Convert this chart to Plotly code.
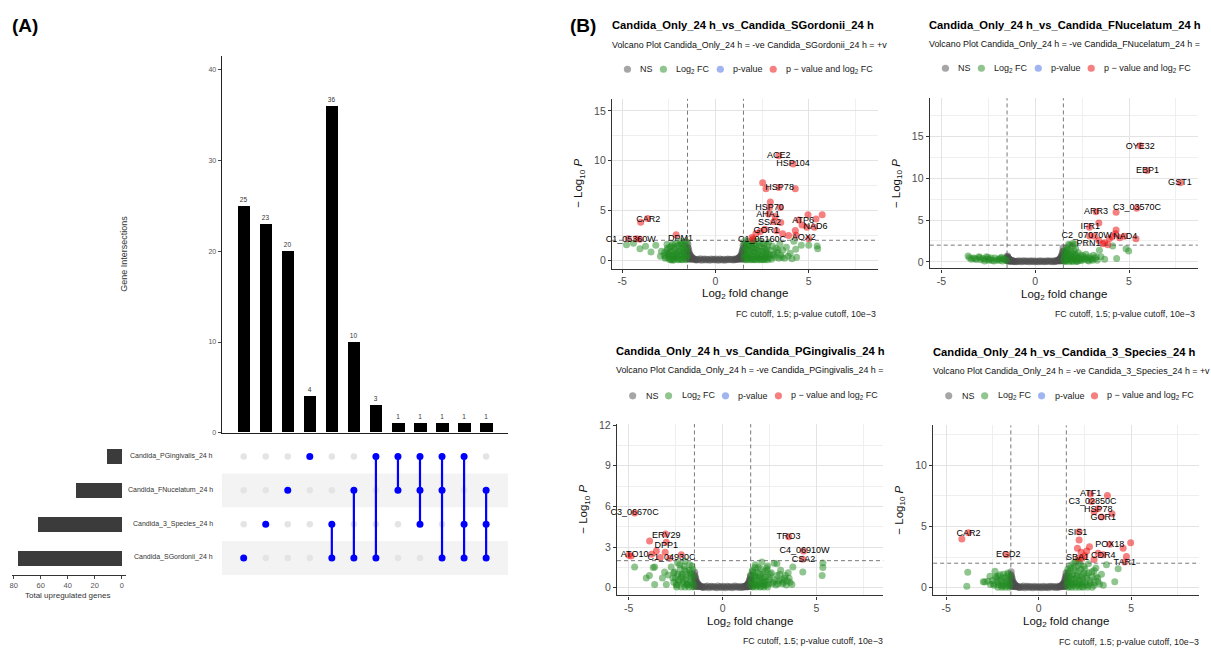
import plotly.graph_objects as go

W, H = 1211, 653
FONT = "Liberation Sans, Arial, Helvetica, sans-serif"


def fx(px):
    return px / W


def fy(py):
    return 1 - py / H


# ---------------- Panel A : UpSet data ----------------
inter_cols = [1, 2, 3, 4, 5, 6, 7, 8, 9, 10, 11, 12]
inter_counts = [25, 23, 20, 4, 36, 10, 3, 1, 1, 1, 1, 1]
set_names = ["Candida_PGingivalis_24 h", "Candida_FNucelatum_24 h",
             "Candida_3_Species_24 h", "Candida_SGordonii_24 h"]
set_rows = [4, 3, 2, 1]
set_sizes = [11, 34, 62, 77]
# membership of each intersection column (row ids: 4=PG, 3=FN, 2=3Sp, 1=SG)
inter_members = [[1], [2], [3], [4], [2, 1], [3, 1], [4, 1], [4, 3],
                 [4, 3, 2], [4, 3, 1], [4, 2, 1], [3, 2, 1]]

# ---------------- Panel B : volcano data ----------------
ns_flat_x = [-1.02, -0.95, -0.88, -0.81, -0.74, -0.67, -0.6, -0.53, -0.46, -0.39,
             -0.32, -0.25, -0.18, -0.11, -0.04, 0.03, 0.1, 0.17, 0.24, 0.31,
             0.38, 0.45, 0.52, 0.59, 0.66, 0.73, 0.8, 0.87, 0.94, 1.01]
ns_flat_y = [0.02, 0.1, 0.05, 0.14, 0.0, 0.08, 0.12, 0.03, 0.1, 0.06,
             0.0, 0.13, 0.04, 0.09, 0.02, 0.11, 0.05, 0.0, 0.12, 0.07,
             0.03, 0.1, 0.0, 0.08, 0.13, 0.04, 0.1, 0.06, 0.02, 0.12]
ns_edge_xl = [-1.49, -1.49, -1.49, -1.49, -1.48, -1.46, -1.46, -1.46, -1.43, -1.43,
              -1.43, -1.4, -1.4, -1.37, -1.37, -1.34, -1.34, -1.3, -1.3, -1.26,
              -1.26, -1.22, -1.18, -1.14, -1.1, -1.06]
ns_edge_xr = [1.49, 1.49, 1.49, 1.49, 1.48, 1.46, 1.46, 1.46, 1.43, 1.43,
              1.43, 1.4, 1.4, 1.37, 1.37, 1.34, 1.34, 1.3, 1.3, 1.26,
              1.26, 1.22, 1.18, 1.14, 1.1, 1.06]

# Plot 1 : SGordonii
p1_ns_yl = [0.1, 0.5, 0.9, 1.3, 1.6, 0.3, 0.8, 1.2, 0.15, 0.55, 0.95, 0.3, 0.7, 0.2, 0.55,
            0.1, 0.45, 0.15, 0.35, 0.1, 0.28, 0.2, 0.15, 0.12, 0.08, 0.05]
p1_ns_yr = [0.1, 0.5, 0.9, 1.2, 1.5, 0.3, 0.75, 1.1, 0.15, 0.5, 0.9, 0.3, 0.65, 0.2, 0.5,
            0.1, 0.4, 0.15, 0.32, 0.1, 0.25, 0.2, 0.15, 0.12, 0.08, 0.05]
p1_fc_x = [-4.77, -4.05, -3.46, -3.75, -4.4, -3.2, -2.75, -2.7, -2.6, -2.55, -2.5, -2.45,
           -2.4, -2.35, -2.3, -2.25, -2.2, -2.15, -2.1, -2.05, -2.0, -1.95, -1.9, -1.85,
           -1.8, -1.78, -1.75, -1.7, -1.68, -1.65, -1.62, -1.6, -1.58, -1.55, -1.52, -1.52,
           -2.6, -2.9, -2.95, -1.9, -2.3,
           1.52, 1.55, 1.55, 1.6, 1.62, 1.65, 1.7, 1.72, 1.75, 1.8, 1.85, 1.88, 1.9, 1.95,
           2.0, 2.02, 2.1, 2.1, 2.15, 2.2, 2.25, 2.3, 2.35, 2.4, 2.45, 2.5, 2.55, 2.6, 2.65,
           2.7, 2.75, 2.8, 2.85, 2.9, 2.95, 3.0, 3.05, 3.1, 3.2, 3.25, 3.3, 3.4, 3.45, 3.5,
           3.6, 3.7, 3.8, 3.9, 4.0, 4.1, 4.2, 4.3, 4.35, 5.0, 5.45, 5.48, 4.6, 1.58, 2.05, 1.7]
p1_fc_y = [1.56, 1.16, 0.83, 1.4, 1.7, 1.5, 0.5, 0.2, 1.0, 0.6, 0.3, 1.3,
           0.8, 0.1, 1.6, 0.5, 1.1, 0.3, 0.7, 1.4, 0.2, 0.9, 0.5, 1.2,
           0.1, 1.7, 0.7, 0.3, 1.0, 1.5, 0.5, 0.15, 1.2, 0.8, 0.4, 1.8,
           1.6, 0.9, 0.4, 1.9, 0.0,
           0.2, 0.9, 1.6, 0.5, 1.2, 0.1, 1.9, 0.7, 0.3, 1.4, 1.0, 0.2, 0.6, 1.7,
           0.4, 1.2, 0.1, 0.8, 1.5, 0.3, 1.0, 1.9, 0.6, 0.1, 1.3, 0.4, 0.9, 1.6, 0.2,
           0.7, 1.1, 0.3, 1.8, 0.5, 1.0, 0.1, 1.4, 0.6, 0.3, 1.2, 0.8, 0.2, 1.6, 0.5,
           1.0, 0.2, 1.3, 0.4, 0.7, 0.15, 1.9, 1.1, 0.3, 1.5, 1.42, 1.16, 1.5, 1.95, 1.95, 1.45]
p1_fc2_x = [1.53, 1.57, 1.63, 1.68, 1.73, 1.77, 1.83, 1.87, 1.93, 1.97, 2.03, 2.07, 2.13, 2.18,
            2.23, 2.28, 2.33, 2.38, 2.43, 2.48, 2.53, 2.58, 2.63, 2.68, 2.73, 2.78, 2.83, 2.88,
            1.6, 1.75, 1.9, 2.05, 2.2, 2.35, 2.5, 2.65, 2.8, 3.15, 3.35, 3.55,
            -1.53, -1.57, -1.63, -1.67, -1.72, -1.77, -1.83, -1.88, -1.93, -1.98, -2.03, -2.08,
            -2.13, -2.18, -2.23, -2.28, -2.33, -2.38, -2.43, -2.48, -2.53, -2.58, -2.65, -2.72,
            -1.6, -1.8, -2.0, -2.2, -2.4]
p1_fc2_y = [0.6, 1.4, 0.3, 1.1, 0.5, 1.6, 0.2, 0.8, 1.3, 0.1, 0.9, 1.6, 0.4, 1.2,
            0.7, 0.2, 1.4, 0.9, 0.3, 1.7, 0.6, 0.1, 1.2, 0.4, 0.9, 1.5, 0.6, 0.2,
            0.05, 0.05, 0.05, 0.05, 0.05, 0.05, 0.05, 0.05, 0.05, 0.5, 1.0, 0.3,
            1.1, 0.3, 1.9, 0.7, 1.3, 0.4, 1.6, 0.9, 0.1, 1.5, 0.8, 0.4,
            1.7, 0.6, 1.3, 0.2, 0.9, 1.4, 0.5, 0.1, 0.7, 1.2, 0.3, 0.8,
            0.05, 0.05, 0.05, 0.05, 0.05]
p1_sig_x = [3.39, 4.16, 2.53, 2.71, 4.28, 3.4, 2.94, 2.9, 3.48, 2.85, 3.2, 3.12, 3.5, 4.96,
            5.72, 5.39, 4.46, 4.64, 5.3, 4.9, 2.4, 2.17, 2.65, 3.28, 3.6, 3.92, 4.28, 4.32,
            5.0, 1.95, -4.01, -3.64, -4.68, -4.23, -4.05, -2.11, 2.0]
p1_sig_y = [10.5, 9.67, 7.78, 7.19, 7.19, 7.3, 5.86, 5.3, 5.3, 4.64, 4.4, 3.87, 3.8, 4.57,
            4.57, 4.14, 4.04, 3.54, 3.31, 3.3, 2.88, 2.68, 3.1, 2.95, 2.65, 2.48, 2.98, 2.5,
            2.15, 2.28, 3.81, 4.2, 2.15, 2.15, 2.1, 2.55, 2.1]
p1_lab = ["ACE2", "HSP104", "HSP78", "HSP70", "AHA1", "SSA2", "ATP6", "NAD6", "GOR1",
          "AOX2", "C1_05160C", "CAR2", "C1_05360W", "DPM1"]
p1_lab_x = [3.39, 4.16, 3.44, 2.9, 2.81, 2.9, 4.7, 5.36, 2.72, 4.73, 2.49, -3.6, -4.55, -1.88]
p1_lab_y = [10.5, 9.67, 7.28, 5.3, 4.54, 3.81, 4.0, 3.31, 2.91, 2.28, 2.1, 4.07, 2.05, 2.12]

# Plot 2 : FNucelatum
p2_ns_yl = [0.1, 0.3, 0.5, 0.6, 0.7, 0.2, 0.4, 0.55, 0.1, 0.3, 0.45, 0.15, 0.35, 0.1, 0.3,
            0.1, 0.25, 0.1, 0.2, 0.05, 0.15, 0.12, 0.1, 0.08, 0.06, 0.04]
p2_ns_yr = [0.1, 0.5, 0.9, 1.3, 1.7, 0.3, 0.8, 1.2, 0.15, 0.55, 0.95, 0.3, 0.7, 0.2, 0.55,
            0.1, 0.45, 0.15, 0.35, 0.1, 0.28, 0.2, 0.15, 0.12, 0.08, 0.05]
p2_fc_x = [-3.58, -3.4, -3.14, -2.96, -2.8, -2.6, -2.52, -2.43, -2.3, -2.15, -2.04, -1.95,
           -1.86, -1.75, -1.68, -1.6, -1.54, -2.7, -3.3,
           1.52, 1.55, 1.58, 1.6, 1.62, 1.65, 1.7, 1.72, 1.75, 1.8, 1.85, 1.88, 1.9, 1.95,
           2.0, 2.05, 2.1, 2.15, 2.2, 2.25, 2.3, 2.4, 2.45, 2.5, 2.6, 2.7, 2.8, 2.9, 3.0,
           3.1, 3.2, 3.3, 3.42, 3.5, 3.7, 4.13, 4.34, 4.84, 4.98, 1.78, 1.98, 2.12, 1.68]
p2_fc_y = [0.71, 0.3, 0.28, 0.51, 0.4, 0.6, 0.51, 0.28, 0.15, 0.45, 0.2, 0.35,
           0.4, 0.1, 0.4, 0.25, 0.2, 0.1, 0.45,
           0.2, 0.9, 0.5, 1.3, 0.1, 0.7, 1.7, 0.3, 1.0, 0.5, 2.0, 0.2, 1.2, 0.6,
           2.2, 0.3, 0.9, 1.6, 0.1, 0.6, 1.1, 0.3, 0.8, 0.2, 0.5, 0.9, 0.2, 0.6, 0.3,
           0.8, 0.4, 0.2, 1.38, 0.6, 0.3, 1.9, 0.4, 1.58, 1.3, 2.1, 1.9, 2.15, 1.45]
p2_fc2_x = [1.53, 1.57, 1.63, 1.67, 1.73, 1.77, 1.83, 1.87, 1.93, 1.97, 2.03, 2.07, 2.13, 2.18,
            2.23, 2.28, 2.35, 2.42, 2.55, 2.65, 2.75, 2.85, 2.95, 3.05, 3.25, 1.6, 1.8, 2.0, 2.2,
            -3.5, -3.2, -2.9, -2.65, -2.35, -2.2, -1.9, -1.8, -1.65, -2.5, -3.0]
p2_fc2_y = [0.4, 1.1, 0.2, 0.9, 0.5, 1.4, 0.3, 0.7, 0.1, 1.0, 0.5, 1.3, 0.3, 0.8,
            0.4, 0.1, 0.5, 0.2, 0.7, 0.3, 0.5, 0.1, 0.4, 0.2, 0.6, 0.05, 0.05, 0.05, 0.05,
            0.5, 0.4, 0.25, 0.3, 0.45, 0.1, 0.2, 0.55, 0.3, 0.2, 0.6]
p2_sig_x = [5.6, 5.96, 7.73, 5.41, 4.31, 3.24, 3.39, 2.89, 4.31, 4.27, 3.16, 4.75, 5.37,
            3.95, 4.1, 3.39, 3.6, 3.87, 4.5, 2.9, 3.7]
p2_sig_y = [13.9, 10.95, 9.49, 6.43, 5.93, 6.0, 4.66, 4.15, 3.83, 3.36, 3.08, 3.08, 2.77,
            2.77, 3.0, 2.57, 2.17, 2.05, 2.9, 3.1, 2.3]
p2_lab = ["OYE32", "EBP1", "GST1", "C3_03570C", "ARR3", "IFR1", "C2_07070W", "NAD4", "PRN1"]
p2_lab_x = [5.6, 5.99, 7.71, 5.43, 3.24, 2.94, 2.74, 4.8, 2.84]
p2_lab_y = [13.83, 10.95, 9.49, 6.44, 6.0, 4.15, 3.08, 3.04, 2.17]

# Plot 3 : PGingivalis
p3_ns_yl = [0.1, 0.4, 0.7, 0.95, 1.15, 0.25, 0.6, 0.85, 0.12, 0.4, 0.7, 0.25, 0.5, 0.15, 0.4,
            0.1, 0.32, 0.12, 0.26, 0.08, 0.2, 0.15, 0.12, 0.1, 0.07, 0.04]
p3_ns_yr = [0.1, 0.35, 0.55, 0.75, 0.9, 0.2, 0.45, 0.65, 0.1, 0.32, 0.55, 0.2, 0.4, 0.12, 0.32,
            0.08, 0.26, 0.1, 0.2, 0.06, 0.16, 0.12, 0.1, 0.08, 0.06, 0.04]
p3_fc_x = [-4.69, -4.07, -3.62, -3.62, -3.21, -3.09, -3.0, -2.74, -2.65, -2.47, -2.56, -2.29,
           -2.2, -2.11, -2.02, -1.94, -1.85, -1.76, -1.72, -1.62, -1.58, -1.53, -2.4, -2.0,
           -2.6, -2.9, -3.7, -3.9, -2.35, -1.68, -2.15, -1.9,
           1.5, 1.52, 1.55, 1.6, 1.62, 1.65, 1.7, 1.75, 1.8, 1.85, 1.9, 1.95, 2.0, 2.05,
           2.1, 2.15, 2.2, 2.25, 2.3, 2.4, 2.45, 2.5, 2.6, 2.7, 2.75, 2.85, 2.9, 3.0, 3.1,
           3.2, 3.3, 3.4, 3.5, 3.6, 3.7, 4.28, 5.35, 5.35, 5.31, 2.35, 1.75, 2.9, 3.75]
p3_fc_y = [1.53, 0.73, 1.53, 0.24, 0.73, 1.17, 0.24, 1.53, 0.73, 0.24, 1.17, 1.7,
           0.97, 0.49, 1.33, 0.73, 0.24, 1.7, 1.09, 0.49, 1.33, 0.12, 1.85, 1.95,
           0.4, 0.95, 1.5, 0.9, 0.6, 0.8, 1.0, 0.3,
           0.2, 0.9, 0.5, 1.3, 0.1, 0.7, 1.1, 0.3, 0.8, 0.15, 1.5, 0.6, 1.0, 0.3,
           1.9, 0.7, 0.2, 1.2, 0.5, 1.6, 0.3, 0.8, 1.1, 0.4, 1.8, 0.2, 0.9, 0.5, 1.3,
           0.3, 0.7, 0.2, 1.1, 0.4, 0.25, 1.17, 1.82, 1.5, 0.9, 1.45, 1.7, 1.77, 1.53]
p3_fc2_x = [1.53, 1.58, 1.63, 1.68, 1.73, 1.78, 1.83, 1.88, 1.93, 1.98, 2.03, 2.08, 2.13, 2.18,
            2.23, 2.28, 2.33, 2.38, 2.48, 2.55, 2.65, 2.8, 2.95, 3.05, 3.15, 3.25, 3.35, 3.45,
            3.55, 1.6, 1.8, 2.0, 2.2, 2.4,
            -1.53, -1.57, -1.63, -1.67, -1.72, -1.77, -1.83, -1.88, -1.93, -1.98, -2.05, -2.12,
            -2.18, -2.25, -2.32, -2.38, -2.44, -2.52, -2.6, -1.6, -1.8, -2.0, -2.2, -2.45]
p3_fc2_y = [0.5, 1.2, 0.3, 0.9, 1.5, 0.2, 0.6, 1.1, 0.3, 0.8, 1.4, 0.1, 0.5, 1.0,
            0.4, 0.8, 0.2, 1.3, 0.6, 1.0, 0.3, 0.6, 0.3, 1.0, 0.6, 0.4, 0.9, 0.5,
            0.7, 0.05, 0.05, 0.05, 0.05, 0.05,
            0.8, 0.3, 1.6, 1.0, 0.4, 1.3, 0.9, 0.2, 1.2, 0.6, 1.6, 0.3,
            0.8, 1.4, 0.5, 1.0, 0.2, 0.7, 1.1, 0.05, 0.05, 0.05, 0.05, 0.05]
p3_sig_x = [-4.69, -3.04, -3.89, -3.0, -3.53, -3.06, -4.87, -5.0, -3.32, -2.82, -2.2, -3.78,
            3.53, 4.32, 4.28]
p3_sig_y = [5.51, 3.96, 3.45, 3.35, 2.72, 2.62, 2.35, 2.4, 2.23, 2.18, 2.43, 2.48,
            3.76, 2.72, 2.11]
p3_lab = ["C3_06670C", "ERV29", "DPP1", "ATO10", "C1_04930C", "TRO3", "C4_06910W", "CSA2"]
p3_lab_x = [-4.69, -3.0, -3.0, -4.69, -2.72, 3.52, 4.37, 4.32]
p3_lab_y = [5.52, 3.83, 3.11, 2.43, 2.23, 3.76, 2.72, 2.09]

# Plot 4 : 3_Species
p4_ns_yl = [0.1, 0.45, 0.8, 1.05, 1.3, 0.28, 0.65, 0.95, 0.13, 0.45, 0.8, 0.27, 0.58, 0.17, 0.45,
            0.1, 0.36, 0.13, 0.29, 0.09, 0.23, 0.17, 0.13, 0.1, 0.07, 0.04]
p4_ns_yr = [0.1, 0.42, 0.75, 1.0, 1.2, 0.26, 0.6, 0.9, 0.12, 0.42, 0.75, 0.25, 0.55, 0.16, 0.42,
            0.1, 0.34, 0.12, 0.27, 0.08, 0.21, 0.16, 0.12, 0.1, 0.07, 0.04]
p4_fc_x = [-3.83, -3.88, -2.99, -2.75, -2.63, -2.36, -2.27, -2.18, -2.09, -2.0, -1.91, -1.82,
           -1.73, -1.67, -1.6, -1.55, -2.45, -2.91, -2.6, -2.2, -1.9,
           1.52, 1.55, 1.58, 1.6, 1.65, 1.7, 1.72, 1.78, 1.8, 1.85, 1.9, 1.95, 2.0, 2.05,
           2.1, 2.15, 2.2, 2.25, 2.3, 2.35, 2.4, 2.5, 2.55, 2.6, 2.7, 2.8, 2.9, 3.0, 3.1,
           3.2, 3.3, 3.4, 3.5, 3.67, 4.3, 4.12, 2.2, 1.9, 2.7, 3.1, 1.62, 2.45, 3.0]
p4_fc_y = [1.26, 0.13, 0.48, 0.54, 0.94, 1.34, 0.8, 0.27, 1.07, 0.54, 0.13, 0.86,
           0.4, 1.2, 0.67, 0.19, 0.32, 0.46, 0.27, 0.95, 1.1,
           0.2, 0.9, 1.5, 0.5, 1.2, 0.1, 1.8, 0.7, 0.3, 1.0, 1.6, 0.4, 2.1, 0.8,
           0.2, 1.3, 0.6, 1.9, 0.3, 1.0, 0.5, 1.5, 0.2, 0.8, 1.2, 0.4, 0.9, 0.2, 1.6,
           0.5, 0.3, 1.1, 0.2, 1.88, 1.55, 0.48, 2.2, 2.0, 1.95, 0.9, 0.6, 1.75, 1.4]
p4_fc2_x = [1.53, 1.58, 1.63, 1.68, 1.73, 1.78, 1.83, 1.88, 1.93, 1.98, 2.03, 2.08, 2.13, 2.18,
            2.23, 2.28, 2.33, 2.38, 2.45, 2.52, 2.6, 2.68, 2.78, 2.88, 3.0, 3.2,
            1.6, 1.8, 2.0, 2.2, 2.4, 2.65, 2.9,
            -1.53, -1.58, -1.63, -1.7, -1.77, -1.85, -1.93, -2.02, -2.12, -2.22, -2.32, -2.4,
            -2.5, -1.6, -1.8, -2.0, -2.2]
p4_fc2_y = [0.6, 1.3, 0.3, 0.9, 1.6, 0.4, 1.1, 0.2, 0.7, 1.4, 0.4, 1.0, 1.8, 0.3,
            0.9, 1.5, 0.1, 0.7, 1.2, 0.4, 1.0, 0.2, 0.6, 1.3, 0.4, 0.8,
            0.05, 0.05, 0.05, 0.05, 0.05, 0.05, 0.05,
            0.9, 0.4, 1.1, 0.2, 0.6, 0.3, 0.8, 0.2, 0.6, 0.45, 0.9, 0.2,
            0.6, 0.05, 0.05, 0.05, 0.05]
p4_sig_x = [-4.15, -3.79, -1.73, 2.81, 3.72, 2.86, 3.22, 3.97, 3.0, 3.4, 2.19, 2.19, 2.1,
            2.75, 3.85, 4.57, 4.98, 3.22, 3.49, 4.75, 2.5, 2.14, 2.35, 4.66, 3.0, 2.3, 2.6]
p4_sig_y = [3.97, 4.48, 2.68, 7.64, 7.51, 7.02, 6.43, 6.03, 6.2, 5.76, 4.56, 3.89, 3.22,
            3.35, 3.54, 3.22, 3.67, 2.82, 2.68, 2.55, 2.6, 2.41, 2.4, 2.09, 2.3, 2.9, 3.0]
p4_lab = ["CAR2", "EGD2", "ATF1", "C3_02850C", "HSP78", "GOR1", "SIS1", "POX18", "CDR4",
          "SBA1", "TAR1"]
p4_lab_x = [-3.79, -1.64, 2.81, 2.91, 3.22, 3.49, 2.1, 3.85, 3.49, 2.1, 4.66]
p4_lab_y = [4.42, 2.68, 7.64, 6.97, 6.38, 5.71, 4.48, 3.54, 2.63, 2.41, 2.01]

volcano_titles = ["Candida_Only_24 h_vs_Candida_SGordonii_24 h",
                  "Candida_Only_24 h_vs_Candida_FNucelatum_24 h",
                  "Candida_Only_24 h_vs_Candida_PGingivalis_24 h",
                  "Candida_Only_24 h_vs_Candida_3_Species_24 h"]
volcano_subtitles = ["Volcano Plot Candida_Only_24 h = -ve Candida_SGordonii_24 h = +v",
                     "Volcano Plot Candida_Only_24 h = -ve Candida_FNucelatum_24 h =",
                     "Volcano Plot Candida_Only_24 h = -ve Candida_PGingivalis_24 h =",
                     "Volcano Plot Candida_Only_24 h = -ve Candida_3_Species_24 h = +v"]
legend_labels = ["NS", "Log<sub>2</sub> FC", "p-value", "p \u2212 value and log<sub>2</sub> FC"]
fc_cutoff = 1.5
p_cutoff_line = 2.0
caption = "FC cutoff, 1.5; p-value cutoff, 10e\u22123"

COL_NS = "rgba(77,77,77,0.5)"
COL_FC = "rgba(34,139,34,0.5)"
COL_P = "rgba(65,105,225,0.5)"
COL_BOTH = "rgba(238,0,0,0.5)"
legend_cols = [COL_NS, COL_FC, COL_P, COL_BOTH]

# layout geometry of each volcano panel (pixels)
volc = [
    dict(L=611, R=877, T=95, B=267, xr=[-5.55, 8.69], yr=[-0.86, 16.22],
         yt=[0, 5, 10, 15], ym=[2.5, 7.5, 12.5], tx=609, ty=20.5, leg=(626.5, 65), cap=(877, 313), xt=293,
         ns=(p1_ns_yl, p1_ns_yr), fc=(p1_fc_x + p1_fc2_x, p1_fc_y + p1_fc2_y),
         sig=(p1_sig_x, p1_sig_y), lab=(p1_lab, p1_lab_x, p1_lab_y)),
    dict(L=929.3, R=1197.7, T=94.3, B=266.7, xr=[-5.62, 8.66], yr=[-0.79, 19.62],
         yt=[0, 5, 10, 15], ym=[2.5, 7.5, 12.5, 17.5], tx=926.7, ty=20, leg=(945, 64), cap=(1197, 313), xt=294,
         ns=(p2_ns_yl, p2_ns_yr), fc=(p2_fc_x + p2_fc2_x, p2_fc_y + p2_fc2_y),
         sig=(p2_sig_x, p2_sig_y), lab=(p2_lab, p2_lab_x, p2_lab_y)),
    dict(L=616, R=882.7, T=424.3, B=597.7, xr=[-5.63, 8.57], yr=[-0.56, 12.07],
         yt=[0, 3, 6, 9, 12], ym=[1.5, 4.5, 7.5, 10.5], tx=613.3, ty=350.5, leg=(631.7, 395.7), cap=(884, 644), xt=625,
         ns=(p3_ns_yl, p3_ns_yr), fc=(p3_fc_x + p3_fc2_x, p3_fc_y + p3_fc2_y),
         sig=(p3_sig_x, p3_sig_y), lab=(p3_lab, p3_lab_x, p3_lab_y)),
    dict(L=932.7, R=1199.3, T=425.7, B=597.7, xr=[-5.7, 8.69], yr=[-0.62, 13.22],
         yt=[0, 5, 10], ym=[2.5, 7.5, 12.5], tx=930.7, ty=351, leg=(948.3, 395.7), cap=(1201, 645), xt=625,
         ns=(p4_ns_yl, p4_ns_yr), fc=(p4_fc_x + p4_fc2_x, p4_fc_y + p4_fc2_y),
         sig=(p4_sig_x, p4_sig_y), lab=(p4_lab, p4_lab_x, p4_lab_y)),
]

fig = go.Figure()
annotations = []
shapes = []

# ---------- Panel A : intersection bars ----------
fig.add_trace(go.Bar(x=inter_cols, y=inter_counts, width=0.56,
                     marker=dict(color="black", line=dict(width=0)),
                     text=[str(v) for v in inter_counts], textposition="outside",
                     outsidetextfont=dict(size=6.5, color="#333333"), cliponaxis=False,
                     xaxis="x", yaxis="y", hoverinfo="skip"))

# ---------- Panel A : matrix ----------
for r0, r1 in [(2.5, 3.5), (0.5, 1.5)]:
    shapes.append(dict(type="rect", xref="x2", yref="y2", x0=0, x1=13, y0=r0, y1=r1,
                       fillcolor="#f3f3f3", line=dict(width=0), layer="below"))
gx, gy, bx, by = [], [], [], []
for c, mem in zip(inter_cols, inter_members):
    for r in set_rows:
        if r in mem:
            bx.append(c)
            by.append(r)
        else:
            gx.append(c)
            gy.append(r)
fig.add_trace(go.Scatter(x=gx, y=gy, mode="markers", marker=dict(size=6.5, color="#e4e4e4"),
                         xaxis="x2", yaxis="y2", hoverinfo="skip"))
for c, mem in zip(inter_cols, inter_members):
    if len(mem) > 1:
        fig.add_trace(go.Scatter(x=[c, c], y=[min(mem), max(mem)], mode="lines",
                                 line=dict(color="#0000ff", width=2.2),
                                 xaxis="x2", yaxis="y2", hoverinfo="skip"))
fig.add_trace(go.Scatter(x=bx, y=by, mode="markers", marker=dict(size=7, color="#0000ff"),
                         xaxis="x2", yaxis="y2", hoverinfo="skip"))

# ---------- Panel A : set sizes ----------
fig.add_trace(go.Bar(x=set_sizes, y=set_rows, orientation="h", width=0.44,
                     marker=dict(color="#3b3b3b", line=dict(width=0)),
                     xaxis="x3", yaxis="y3", hoverinfo="skip"))

for name, r in zip(set_names, set_rows):
    py = 559 - (r - 1) * 34
    annotations.append(dict(x=fx(213), y=fy(py), xref="paper", yref="paper", text=name,
                            showarrow=False, xanchor="right", yanchor="middle",
                            font=dict(size=7, color="#333")))

annotations += [
    dict(x=fx(8), y=fy(21), xref="paper", yref="paper", text="<b>(A)</b>", showarrow=False,
         xanchor="left", yanchor="middle", font=dict(size=19, color="black")),
    dict(x=fx(567), y=fy(21), xref="paper", yref="paper", text="<b>(B)</b>", showarrow=False,
         xanchor="left", yanchor="middle", font=dict(size=19, color="black")),
    dict(x=fx(122), y=fy(252), xref="paper", yref="paper", text="Gene Intersections",
         showarrow=False, textangle=-90, xanchor="center", yanchor="middle",
         font=dict(size=9, color="#333")),
    dict(x=fx(66), y=fy(598), xref="paper", yref="paper", text="Total upregulated genes",
         showarrow=False, xanchor="center", yanchor="middle", font=dict(size=8, color="#333")),
]

layout_axes = dict(
    xaxis=dict(domain=[fx(220), fx(507)], range=[0, 13], showticklabels=False, ticks="",
               showgrid=False, zeroline=False, showline=True, linecolor="#222", linewidth=1,
               anchor="y", fixedrange=True),
    yaxis=dict(domain=[fy(433), fy(52)], range=[0, 41.5], tickvals=[0, 10, 20, 30, 40],
               ticks="outside", ticklen=3, tickcolor="#444", tickfont=dict(size=7, color="#555"),
               showline=True, linecolor="#222", linewidth=1, showgrid=False, zeroline=False,
               anchor="x"),
    xaxis2=dict(domain=[fx(220), fx(507)], range=[0, 13], visible=False, anchor="y2"),
    yaxis2=dict(domain=[fy(577), fy(440)], range=[0.5, 4.5], visible=False, anchor="x2"),
    xaxis3=dict(domain=[fx(10), fx(124)], range=[81.3, -2.95], tickvals=[0, 20, 40, 60, 80],
                ticks="outside", ticklen=3, tickcolor="#444", tickfont=dict(size=7.5, color="#555"),
                showline=True, linecolor="#333", linewidth=1, showgrid=False, zeroline=False,
                anchor="y3"),
    yaxis3=dict(domain=[fy(577), fy(440)], range=[0.5, 4.5], visible=False, anchor="x3"),
)

# ---------- Panel B : volcano plots ----------
for i, v in enumerate(volc):
    n = 4 + i
    xs, ys = f"x{n}", f"y{n}"
    ns_x = ns_edge_xl + ns_flat_x + ns_edge_xr
    ns_y = v["ns"][0] + ns_flat_y + v["ns"][1]
    fig.add_trace(go.Scatter(x=ns_x, y=ns_y, mode="markers",
                             marker=dict(size=7, color=COL_NS, line=dict(width=0)),
                             xaxis=xs, yaxis=ys, hoverinfo="skip"))
    fig.add_trace(go.Scatter(x=v["fc"][0], y=v["fc"][1], mode="markers",
                             marker=dict(size=7, color=COL_FC, line=dict(width=0)),
                             xaxis=xs, yaxis=ys, hoverinfo="skip"))
    fig.add_trace(go.Scatter(x=v["sig"][0], y=v["sig"][1], mode="markers",
                             marker=dict(size=7, color=COL_BOTH, line=dict(width=0)),
                             xaxis=xs, yaxis=ys, hoverinfo="skip"))
    fig.add_trace(go.Scatter(x=v["lab"][1], y=v["lab"][2], text=v["lab"][0], mode="text",
                             textposition="middle center", textfont=dict(size=9, color="black"),
                             cliponaxis=False, xaxis=xs, yaxis=ys, hoverinfo="skip"))

    layout_axes[f"xaxis{n}"] = dict(
        domain=[fx(v["L"]), fx(v["R"])], range=v["xr"], tickvals=[-5, 0, 5],
        ticktext=["-5", "0", "5"], ticks="outside", ticklen=3, tickcolor="#333",
        tickfont=dict(size=10.5, color="#4d4d4d"), showline=True, linecolor="#333",
        linewidth=1.3, showgrid=True, gridcolor="#e3e3e3", gridwidth=1.1,
        minor=dict(tickvals=[-2.5, 2.5, 7.5], showgrid=True, gridcolor="#efefef", gridwidth=0.7),
        zeroline=False, anchor=ys)
    layout_axes[f"yaxis{n}"] = dict(
        domain=[fy(v["B"]), fy(v["T"])], range=v["yr"], tickvals=v["yt"],
        ticks="outside", ticklen=3, tickcolor="#333",
        tickfont=dict(size=10.5, color="#4d4d4d"), showline=True, linecolor="#333",
        linewidth=1.3, showgrid=True, gridcolor="#e3e3e3", gridwidth=1.1,
        minor=dict(tickvals=v["ym"], showgrid=True, gridcolor="#efefef", gridwidth=0.7),
        zeroline=False, anchor=xs)

    dash = dict(color="#555", width=0.8, dash="4px,3px")
    for xv in (-fc_cutoff, fc_cutoff):
        shapes.append(dict(type="line", xref=xs, yref=f"{ys} domain", x0=xv, x1=xv, y0=0, y1=1,
                           line=dash, layer="above"))
    shapes.append(dict(type="line", xref=f"{xs} domain", yref=ys, x0=0, x1=1,
                       y0=p_cutoff_line, y1=p_cutoff_line, line=dash, layer="above"))

    # titles
    annotations.append(dict(x=fx(v["tx"]), y=fy(v["ty"]), xref="paper", yref="paper",
                            text="<b>" + volcano_titles[i] + "</b>", showarrow=False,
                            xanchor="left", yanchor="middle", font=dict(size=11.2, color="black")))
    annotations.append(dict(x=fx(v["tx"]), y=fy(v["ty"] + 19.5), xref="paper", yref="paper",
                            text=volcano_subtitles[i], showarrow=False,
                            xanchor="left", yanchor="middle", font=dict(size=8.9, color="#111")))
    # legend
    lx, ly = v["leg"]
    for off, lab, col in zip([0, 36, 93, 146], legend_labels, legend_cols):
        cx = lx + off
        shapes.append(dict(type="circle", xref="paper", yref="paper",
                           x0=fx(cx - 3.6), x1=fx(cx + 3.6), y0=fy(ly + 3.6), y1=fy(ly - 3.6),
                           fillcolor=col, line=dict(width=0)))
        annotations.append(dict(x=fx(cx + 11), y=fy(ly), xref="paper", yref="paper", text=lab,
                                showarrow=False, xanchor="left", yanchor="middle",
                                font=dict(size=9, color="#222")))
    # caption
    annotations.append(dict(x=fx(v["cap"][0]), y=fy(v["cap"][1]), xref="paper", yref="paper",
                            text=caption, showarrow=False, xanchor="right", yanchor="middle",
                            font=dict(size=8.8, color="#222")))
    # axis titles
    annotations.append(dict(x=fx((v["L"] + v["R"]) / 2), y=fy(v["xt"]), xref="paper", yref="paper",
                            text="Log<sub>2</sub> fold change", showarrow=False,
                            xanchor="center", yanchor="middle", font=dict(size=11.5, color="#111")))
    annotations.append(dict(x=fx(v["L"] - 33), y=fy((v["T"] + v["B"]) / 2), xref="paper",
                            yref="paper", text="\u2212 Log<sub>10</sub> <i>P</i>", showarrow=False,
                            textangle=-90, xanchor="center", yanchor="middle",
                            font=dict(size=11.5, color="#111")))

fig.update_layout(
    width=W, height=H, margin=dict(l=0, r=0, t=0, b=0, pad=0),
    paper_bgcolor="white", plot_bgcolor="white", showlegend=False,
    font=dict(family=FONT, color="#222"),
    annotations=annotations, shapes=shapes, bargap=0,
    **layout_axes,
)

fig.write_html("out.html", config={"displayModeBar": False},
               post_script="document.body.style.margin='0';document.body.style.padding='0';"
                           "document.body.style.overflow='hidden';")
